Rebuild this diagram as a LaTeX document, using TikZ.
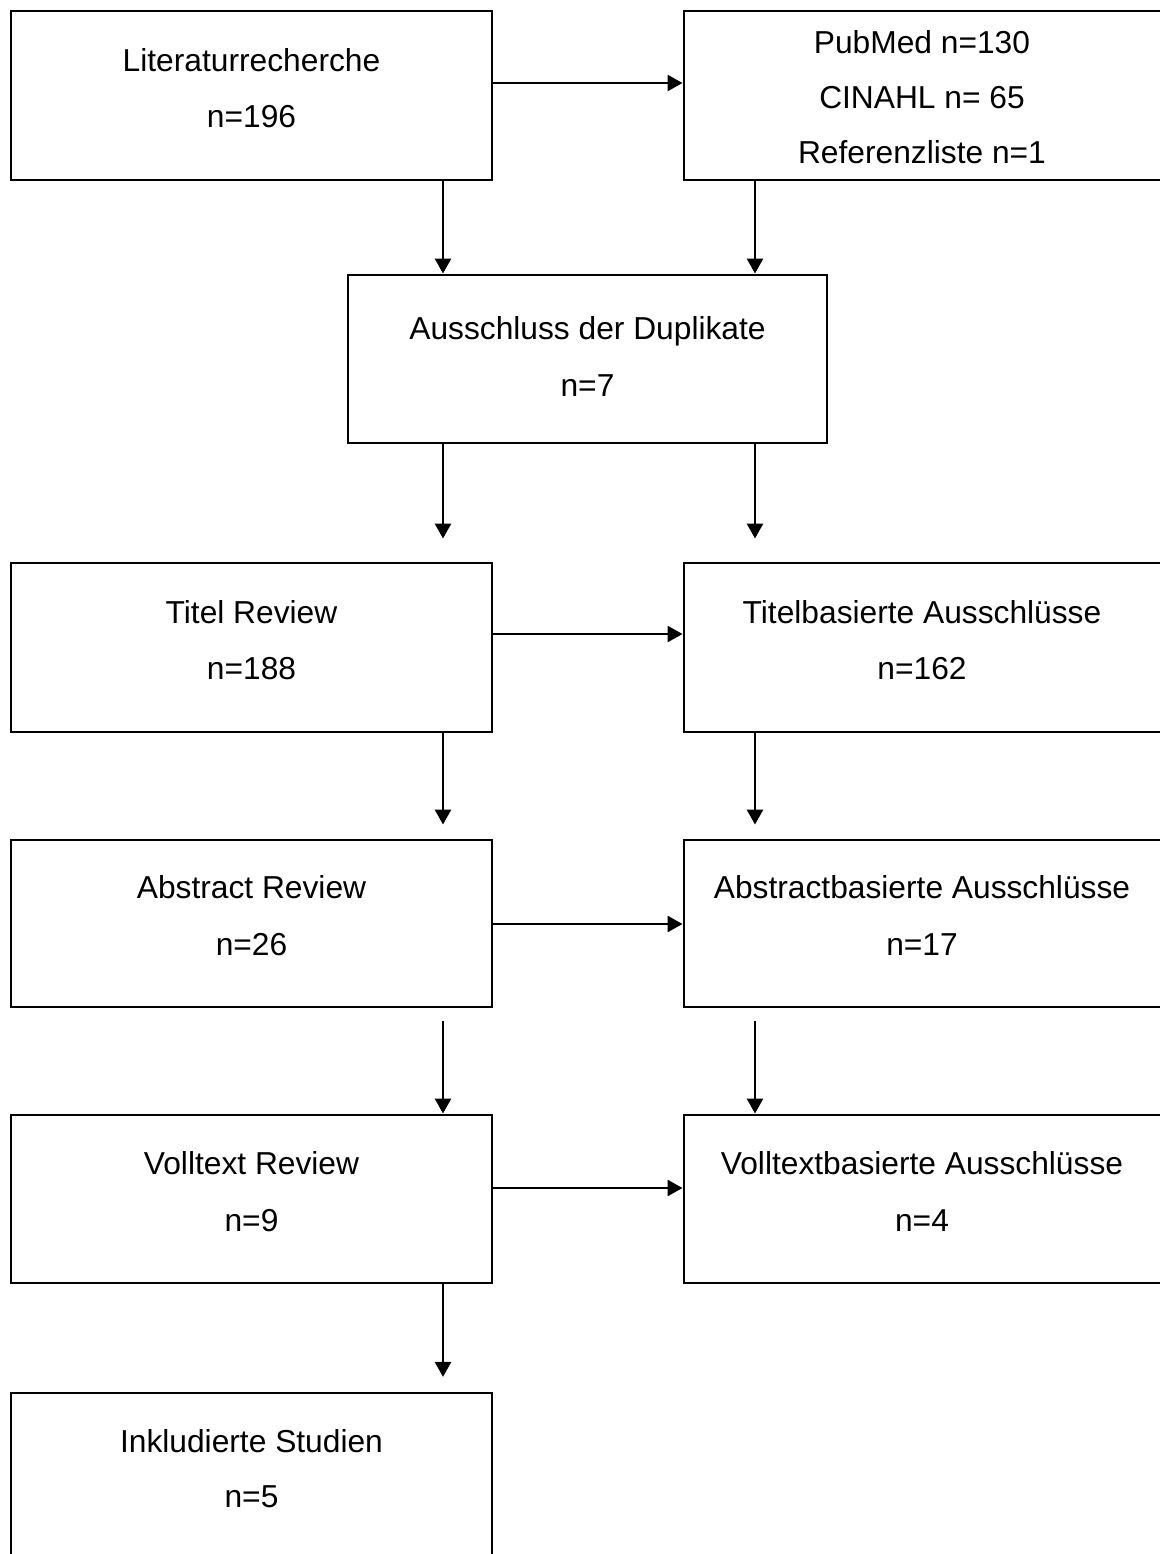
\documentclass[tikz,border=0pt]{standalone}
\usepackage{fontspec}
\setmainfont{Liberation Sans}
\usetikzlibrary{arrows.meta,fit,calc}
\begin{document}
\begin{tikzpicture}[x=0.75pt,y=-0.75pt,
  box/.style={draw=black,line width=2.2pt,inner sep=0pt},
  txt/.style={anchor=base,inner sep=0pt,font=\fontsize{23.8}{28}\selectfont},
  arr/.style={line width=2pt,-{Triangle[length=11.25pt,width=12pt]}}]
\useasboundingbox (0,0) rectangle (1160,1554);
\clip (0,0) rectangle (1160,1554);
\fill[white] (0,0) rectangle (1160,1554);
% corner coordinates
\coordinate (litA) at (11,11);   \coordinate (litB) at (492,180);
\coordinate (srcA) at (684,11);  \coordinate (srcB) at (1168,180);
\coordinate (dupA) at (348,275); \coordinate (dupB) at (827,443);
\coordinate (titA1) at (11,563); \coordinate (titB1) at (492,732);
\coordinate (titA2) at (684,563); \coordinate (titB2) at (1168,732);
\coordinate (absA1) at (11,840); \coordinate (absB1) at (492,1007);
\coordinate (absA2) at (684,840); \coordinate (absB2) at (1168,1007);
\coordinate (volA1) at (11,1115); \coordinate (volB1) at (492,1283);
\coordinate (volA2) at (684,1115); \coordinate (volB2) at (1168,1283);
\coordinate (incA) at (11,1393); \coordinate (incB) at (492,1570);
% boxes
\node[box,fit=(litA)(litB)] (lit) {};
\node[box,fit=(srcA)(srcB)] (src) {};
\node[box,fit=(dupA)(dupB)] (dup) {};
\node[box,fit=(titA1)(titB1)] (tit) {};
\node[box,fit=(titA2)(titB2)] (titX) {};
\node[box,fit=(absA1)(absB1)] (abs) {};
\node[box,fit=(absA2)(absB2)] (absX) {};
\node[box,fit=(volA1)(volB1)] (vol) {};
\node[box,fit=(volA2)(volB2)] (volX) {};
\node[box,fit=(incA)(incB)] (inc) {};
% texts
\node[txt] (t1a) at (251.5,71) {Literaturrecherche};
\node[txt] (t1b) at (251.5,127) {n=196};
\node[txt] (t2a) at (922,53) {PubMed n=130};
\node[txt] (t2b) at (922,108) {CINAHL n= 65};
\node[txt] (t2c) at (922,163) {Referenzliste n=1};
\node[txt] (t3a) at (587.5,339) {Ausschluss der Duplikate};
\node[txt] (t3b) at (587.5,396) {n=7};
\node[txt] (t4a) at (251.5,623) {Titel Review};
\node[txt] (t4b) at (251.5,679) {n=188};
\node[txt] (t5a) at (922,623) {Titelbasierte Ausschlüsse};
\node[txt] (t5b) at (922,679) {n=162};
\node[txt] (t6a) at (251.5,898) {Abstract Review};
\node[txt] (t6b) at (251.5,955) {n=26};
\node[txt] (t7a) at (922,898) {Abstractbasierte Ausschlüsse};
\node[txt] (t7b) at (922,955) {n=17};
\node[txt] (t8a) at (251.5,1174) {Volltext Review};
\node[txt] (t8b) at (251.5,1231) {n=9};
\node[txt] (t9a) at (922,1174) {Volltextbasierte Ausschlüsse};
\node[txt] (t9b) at (922,1231) {n=4};
\node[txt] (t10a) at (251.5,1452) {Inkludierte Studien};
\node[txt] (t10b) at (251.5,1507) {n=5};
% guide coordinates
\coordinate (cL) at (443,0);
\coordinate (cR) at (755,0);
\coordinate (h1) at (0,83);
\coordinate (h2) at (0,634);
\coordinate (h3) at (0,924);
\coordinate (h4) at (0,1188);
% horizontal arrows
\draw[arr] (lit.east |- h1) -- (src.west |- h1);
\draw[arr] (tit.east |- h2) -- (titX.west |- h2);
\draw[arr] (abs.east |- h3) -- (absX.west |- h3);
\draw[arr] (vol.east |- h4) -- (volX.west |- h4);
% vertical arrows
\draw[arr] (lit.south -| cL) -- (dup.north -| cL);
\draw[arr] (src.south -| cR) -- (dup.north -| cR);
\draw[arr,shorten >=17.25pt] (dup.south -| cL) -- (tit.north -| cL);
\draw[arr,shorten >=17.25pt] (dup.south -| cR) -- (titX.north -| cR);
\draw[arr,shorten >=10.5pt] (tit.south -| cL) -- (abs.north -| cL);
\draw[arr,shorten >=10.5pt] (titX.south -| cR) -- (absX.north -| cR);
\draw[arr,shorten <=9.75pt] (abs.south -| cL) -- (vol.north -| cL);
\draw[arr,shorten <=9.75pt] (absX.south -| cR) -- (volX.north -| cR);
\draw[arr,shorten >=11pt] (vol.south -| cL) -- (inc.north -| cL);
\end{tikzpicture}
\end{document}
